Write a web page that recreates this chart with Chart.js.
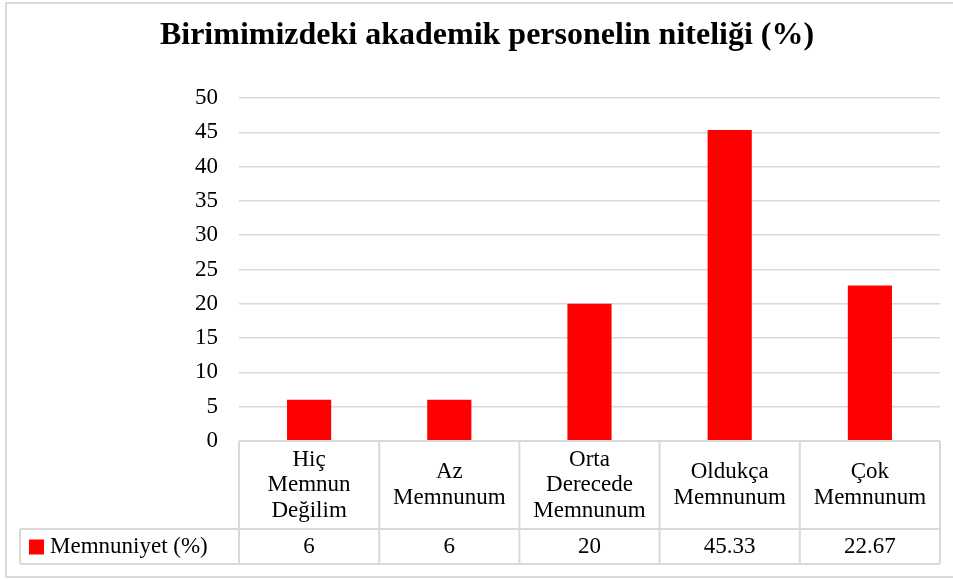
<!DOCTYPE html>
<html>
<head>
<meta charset="utf-8">
<script src="https://cdn.jsdelivr.net/npm/chart.js@4"></script>
<style>
    body { margin: 0; background: #fff; }
    canvas { display: block; }
</style>
</head>
<body>
<canvas id="chart" width="953" height="579"></canvas>
<script>
/**
 * Birimimizdeki akademik personelin niteliği - bar chart with data table
 */

const TITLE = 'Birimimizdeki akademik personelin niteliği (%)';
const SERIES_NAME = 'Memnuniyet (%)';
const categories = [
    ['Hiç', 'Memnun', 'Değilim'],
    ['Az', 'Memnunum'],
    ['Orta', 'Derecede', 'Memnunum'],
    ['Oldukça', 'Memnunum'],
    ['Çok', 'Memnunum'],
];
const values = [6, 6, 20, 45.33, 22.67];
const yTicks = [0, 5, 10, 15, 20, 25, 30, 35, 40, 45, 50];

const FONT = '"Liberation Serif", "Times New Roman", serif';
const LINE = '#d9d9d9';
const RED = '#ff0000';

/**
 * Draws the outer frame and the data table under the plot
 */
const dataTablePlugin = {
    id: 'dataTable',
    beforeDraw(chart) {
        const ctx = chart.ctx;
        ctx.save();
        ctx.strokeStyle = LINE;
        ctx.lineWidth = 2;
        ctx.strokeRect(6, 3, 960, 574);
        ctx.restore();
    },
    afterDraw(chart) {
        const ctx = chart.ctx;
        const x = chart.scales.x;
        const area = chart.chartArea;
        const n = categories.length;
        const colW = (area.right - area.left) / n;
        const headTop = area.bottom;
        const headBottom = headTop + 88;
        const rowBottom = headBottom + 35;
        const tableLeft = 20;

        ctx.save();
        ctx.strokeStyle = LINE;
        ctx.lineWidth = 2;

        // table grid
        ctx.beginPath();
        ctx.moveTo(area.left, headTop);
        ctx.lineTo(area.right, headTop);
        ctx.moveTo(tableLeft, headBottom);
        ctx.lineTo(area.right, headBottom);
        ctx.moveTo(tableLeft, rowBottom);
        ctx.lineTo(area.right, rowBottom);
        ctx.moveTo(tableLeft, headBottom);
        ctx.lineTo(tableLeft, rowBottom);
        for (let i = 0; i <= n; i++) {
            const cx = area.left + i * colW;
            ctx.moveTo(cx, headTop);
            ctx.lineTo(cx, rowBottom);
        }
        ctx.stroke();

        ctx.fillStyle = '#000';
        ctx.font = '23px ' + FONT;
        ctx.textAlign = 'center';
        ctx.textBaseline = 'middle';
        const lh = 25.5;
        const headMid = (headTop + headBottom) / 2;
        const rowMid = (headBottom + rowBottom) / 2;
        categories.forEach((lines, i) => {
            const cx = x.getPixelForValue(i);
            const y0 = headMid - (lines.length - 1) * lh / 2;
            lines.forEach((t, j) => ctx.fillText(t, cx, y0 + j * lh));
            ctx.fillText(String(values[i]), cx, rowMid);
        });

        // legend key + series name
        ctx.fillStyle = RED;
        ctx.fillRect(29, rowMid - 7, 15, 15);
        ctx.fillStyle = '#000';
        ctx.textAlign = 'left';
        ctx.fillText(SERIES_NAME, 50, rowMid);
        ctx.restore();
    }
};

new Chart(document.getElementById('chart'), {
    type: 'bar',
    data: {
        labels: categories,
        datasets: [{
            label: SERIES_NAME,
            data: values,
            backgroundColor: RED,
            barPercentage: 0.315,
            categoryPercentage: 1,
        }],
    },
    options: {
        responsive: false,
        animation: false,
        layout: { padding: { left: 34, right: 13, top: 0, bottom: 138 } },
        plugins: {
            legend: { display: false },
            tooltip: { enabled: false },
            title: {
                display: true,
                text: TITLE,
                color: '#000',
                font: { family: FONT, size: 32, weight: 'bold', lineHeight: 1.2 },
                padding: { top: 17, bottom: 42.6 },
            },
        },
        scales: {
            x: { display: false },
            y: {
                min: 0,
                max: 50,
                afterFit(scale) { scale.width = 205; },
                afterBuildTicks(scale) { scale.ticks = yTicks.map(v => ({ value: v })); },
                border: { display: false },
                grid: { color: LINE, lineWidth: 1.5, drawTicks: false },
                ticks: {
                    color: '#000',
                    padding: 21,
                    font: { family: FONT, size: 23 },
                },
            },
        },
    },
    plugins: [dataTablePlugin],
});
</script>
</body>
</html>
